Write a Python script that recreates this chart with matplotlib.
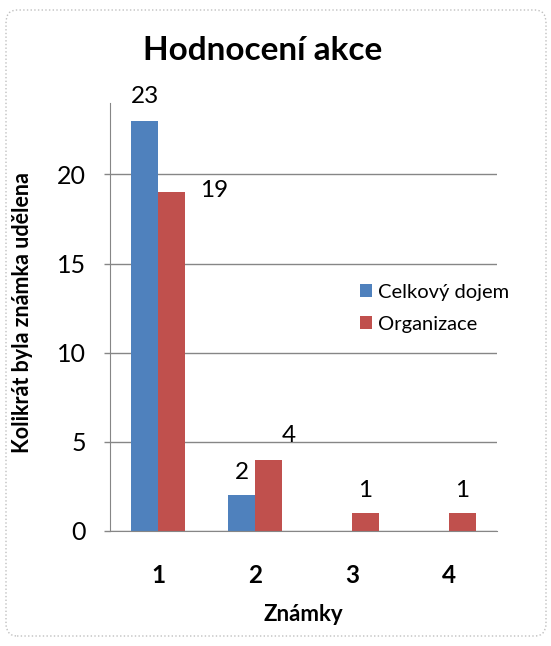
import matplotlib
matplotlib.use("Agg")
import matplotlib.pyplot as plt
import numpy as np
from matplotlib.patches import FancyBboxPatch

plt.rcParams['font.family'] = ['Lato', 'DejaVu Sans']

# data
znamky = ["1", "2", "3", "4"]
celkovy_dojem = [23, 2, 0, 0]
organizace = [19, 4, 1, 1]
serie = ["Celkový dojem", "Organizace"]
barvy = ["#4F81BD", "#C0504D"]

# posuny popisku v pixelech (x, y)
posun_celkovy = [(0, 24), (0, 23), (0, 23), (0, 23)]
posun_organizace = [(42, 2), (20, 24), (0, 23), (0, 23)]

fig = plt.figure(figsize=(5.51, 6.46), dpi=100)
ax = fig.add_axes([110 / 551, 1 - 531 / 646, 387 / 551, 428 / 646])

x = np.arange(len(znamky))
w = 0.28
b1 = ax.bar(x - w / 2, celkovy_dojem, w, color=barvy[0], label=serie[0])
b2 = ax.bar(x + w / 2, organizace, w, color=barvy[1], label=serie[1])

for xi, v, off in zip(x, celkovy_dojem, posun_celkovy):
    if v > 0:
        ax.annotate(str(v), (xi - w / 2, v), xytext=off, textcoords="offset pixels",
                    ha="center", va="center", fontsize=17.5)
for xi, v, off in zip(x, organizace, posun_organizace):
    if v > 0:
        ax.annotate(str(v), (xi + w / 2, v), xytext=off, textcoords="offset pixels",
                    ha="center", va="center", fontsize=17.5)

ax.set_xlim(-0.5, 3.5)
ax.set_ylim(0, 24)
ax.set_yticks([0, 5, 10, 15, 20])
ax.set_xticks(x)
ax.set_xticklabels(znamky, fontsize=17.5, fontweight="bold")
ax.tick_params(axis="x", length=0, pad=24)
ax.tick_params(axis="y", length=4.5, width=1, color="#868686", labelsize=18, pad=13)

ax.yaxis.grid(True, color="#868686", linewidth=1)
ax.set_axisbelow(True)
for s in ["top", "right"]:
    ax.spines[s].set_visible(False)
for s in ["left", "bottom"]:
    ax.spines[s].set_color("#868686")

ax.set_xlabel("Známky", fontsize=16, fontweight="bold", labelpad=12)
ax.set_ylabel("Kolikrát byla známka udělena", fontsize=15.5, fontweight="bold")
ax.yaxis.set_label_coords(-0.198, 0.51)

ax.legend(loc="center left", bbox_to_anchor=(0.6, 0.52), frameon=False, fontsize=14.5,
          handlelength=0.6, handleheight=0.6, handletextpad=0.3, labelspacing=0.75)

fig.text(263 / 551, 1 - 50 / 646, "Hodnocení akce", ha="center", va="center",
         fontsize=24, fontweight="bold")

ramecek = FancyBboxPatch((6 / 551, 10 / 646), 540 / 551, 626 / 646,
                         boxstyle="round,pad=0,rounding_size=0.02",
                         transform=fig.transFigure, fill=False,
                         edgecolor="#BFBFBF", linewidth=1, linestyle=":")
fig.patches.append(ramecek)

fig.savefig("out.png", dpi=100)
